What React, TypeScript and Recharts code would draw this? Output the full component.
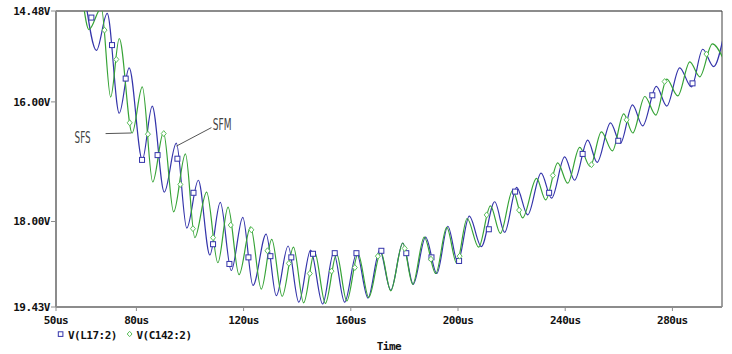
import React from 'react';
import {
  ComposedChart, Line, Scatter, XAxis, YAxis, ReferenceLine, ReferenceDot,
} from 'recharts';

// time axis (us) and voltage axis (V)
const xTicks = [50, 80, 120, 160, 200, 240, 280];
const yTicks = [14.48, 16, 18, 19.43];

// V(L17:2) – extremes of the ringing
const blueT = [61.1, 65.1, 69.1, 73.6, 77.3, 82.2, 85.9, 90.4, 94.9, 98.8, 103.1, 107.4, 111.3, 115.4, 119.7, 123.5, 128.4, 132.2, 136.6, 140.6, 145.0, 149.5, 153.6, 157.7, 162.2, 166.4, 170.8, 174.9, 179.4, 183.3, 187.9, 192.1, 196.2, 199.9, 204.2, 208.7, 213.7, 217.4, 221.9, 226.0, 231.0, 234.9, 239.8, 243.5, 248.4, 251.9, 256.9, 260.6, 265.1, 268.9, 274.0, 277.9, 282.7, 287.1, 291.3, 295.4, 299.0];
const blueV = [14.33, 15.14, 14.52, 16.19, 15.43, 16.97, 16.07, 17.51, 16.69, 18.11, 17.31, 18.56, 17.68, 18.82, 17.93, 19.07, 18.21, 19.24, 18.41, 19.35, 18.48, 19.38, 18.52, 19.35, 18.53, 19.28, 18.48, 19.15, 18.36, 19.05, 18.26, 18.87, 18.08, 18.68, 17.91, 18.42, 17.67, 18.18, 17.43, 17.89, 17.19, 17.61, 16.92, 17.31, 16.64, 17.01, 16.35, 16.69, 16.05, 16.40, 15.74, 16.07, 15.43, 15.75, 15.12, 15.41, 14.92];

// V(C142:2)
const greenT = [60.0, 62.3, 66.9, 70.4, 73.6, 78.4, 82.2, 86.1, 90.1, 93.9, 98.3, 101.8, 106.2, 110.4, 114.2, 118.3, 122.6, 126.6, 130.5, 134.4, 138.6, 142.4, 146.5, 150.5, 154.7, 158.5, 162.7, 166.7, 171.2, 174.9, 179.4, 183.1, 187.4, 191.7, 195.8, 199.5, 203.4, 207.7, 212.1, 215.8, 220.4, 224.1, 229.3, 232.7, 237.2, 240.9, 245.4, 249.3, 253.5, 257.6, 261.8, 265.2, 269.7, 273.8, 277.9, 282.0, 286.5, 290.2, 294.9, 299.0];
const greenV = [14.30, 14.79, 14.43, 15.92, 14.94, 16.52, 15.75, 17.34, 16.51, 17.84, 16.87, 18.27, 17.51, 18.69, 17.76, 18.89, 18.09, 19.13, 18.30, 19.25, 18.43, 19.36, 18.51, 19.37, 18.54, 19.33, 18.54, 19.27, 18.51, 19.16, 18.36, 19.05, 18.26, 18.87, 18.10, 18.70, 17.95, 18.43, 17.74, 18.20, 17.48, 17.94, 17.28, 17.64, 17.02, 17.36, 16.76, 17.08, 16.50, 16.82, 16.20, 16.52, 15.91, 16.22, 15.62, 15.90, 15.33, 15.58, 15.03, 15.28];

// trace markers (squares / diamonds)
const blueMarkT = [63.2, 70.9, 76.0, 82.1, 87.9, 95.3, 101.3, 108.6, 114.7, 121.8, 130.0, 137.8, 145.9, 154.0, 162.1, 171.4, 180.7, 190.1, 200.4, 211.5, 221.3, 234.0, 246.5, 259.8, 272.5, 287.5];
const blueMarkV = [14.59, 15.05, 15.61, 16.97, 16.89, 16.95, 17.52, 18.38, 18.71, 18.60, 18.58, 18.60, 18.54, 18.53, 18.53, 18.49, 18.53, 18.60, 18.66, 18.13, 17.50, 17.52, 16.87, 16.65, 15.89, 15.69];
const greenMarkT = [68.1, 72.5, 77.5, 84.3, 90.2, 96.4, 101.1, 108.6, 115.2, 122.9, 128.9, 136.9, 144.7, 152.8, 161.5, 170.1, 180.1, 189.9, 200.6, 210.7, 222.8, 235.4, 249.8, 262.9, 277.1, 292.7];
const greenMarkV = [14.80, 15.29, 16.35, 16.54, 16.53, 17.38, 18.12, 18.27, 18.06, 18.14, 18.49, 18.70, 18.87, 18.83, 18.77, 18.58, 18.45, 18.63, 18.58, 17.89, 17.81, 17.23, 17.05, 16.30, 15.66, 15.20];

const zip = (ts: number[], vs: number[]) => ts.map((t, i) => ({ t, v: vs[i] }));

const blueData = zip(blueT, blueV);
const greenData = zip(greenT, greenV);
const blueMarks = zip(blueMarkT, blueMarkV);
const greenMarks = zip(greenMarkT, greenMarkV);

const BLUE = '#3434aa';
const GREEN = '#36a336';
const MARK_GREEN = '#5cbf5c';
const AXIS = '#8c8c8c';
const FONT = "'DejaVu Sans Mono', monospace";

const tickStyle = { fill: '#111', fontSize: 11, fontFamily: FONT, fontWeight: 'bold', letterSpacing: -0.5 };

const Square = (p: any) => (
  <rect x={p.cx - 2.5} y={p.cy - 2.5} width={5} height={5} fill="#fff" stroke={BLUE} strokeWidth={1} />
);

const Diamond = (p: any) => (
  <polygon
    points={`${p.cx},${p.cy - 3} ${p.cx + 2.5},${p.cy} ${p.cx},${p.cy + 3} ${p.cx - 2.5},${p.cy}`}
    fill="#fff"
    stroke={MARK_GREEN}
    strokeWidth={1}
  />
);

const noteText = (label: string, anchor: 'start' | 'end', len: number) => (p: any) => (
  <text
    x={p.cx}
    y={p.cy}
    textAnchor={anchor}
    fontSize={16}
    fontFamily="'DejaVu Sans Condensed', 'DejaVu Sans', sans-serif"
    fontWeight={300}
    fill="#444"
    textLength={len}
    lengthAdjust="spacingAndGlyphs"
  >
    {label}
  </text>
);

export default function App() {
  return (
    <div style={{ position: 'absolute', left: 0, top: 0, width: 732, height: 354, background: '#fff' }}>
      <ComposedChart width={732} height={354} margin={{ top: 11, right: 10, left: 0, bottom: 27 }}>
        <XAxis
          type="number"
          dataKey="t"
          domain={[50, 298.5]}
          allowDataOverflow
          ticks={xTicks}
          interval={0}
          tickFormatter={(v: number) => `${v}us`}
          tick={tickStyle}
          tickSize={4}
          tickMargin={5}
          height={20}
          axisLine={{ stroke: AXIS, strokeWidth: 2 }}
          tickLine={{ stroke: AXIS }}
        />
        <YAxis
          type="number"
          dataKey="v"
          domain={[14.48, 19.43]}
          reversed
          allowDataOverflow
          ticks={yTicks}
          interval={0}
          tickFormatter={(v: number) => `${v.toFixed(2)}V`}
          tick={tickStyle}
          tickSize={5}
          tickMargin={1}
          width={56}
          axisLine={{ stroke: AXIS, strokeWidth: 2 }}
          tickLine={{ stroke: AXIS }}
        />
        <ReferenceLine y={14.48} stroke={AXIS} strokeWidth={2} />
        <ReferenceLine x={298.5} stroke="#404040" strokeWidth={1} />

        <Line data={blueData} dataKey="v" type="monotone" stroke={BLUE} strokeWidth={1.2} dot={false} isAnimationActive={false} />
        <Line data={greenData} dataKey="v" type="monotone" stroke={GREEN} strokeWidth={1.2} dot={false} isAnimationActive={false} />
        <Scatter data={blueMarks} dataKey="v" shape={Square} isAnimationActive={false} />
        <Scatter data={greenMarks} dataKey="v" shape={Diamond} isAnimationActive={false} />

        <ReferenceLine segment={[{ x: 68.5, y: 16.53 }, { x: 78.1, y: 16.52 }]} stroke="#555" strokeWidth={1} />
        <ReferenceLine segment={[{ x: 94.9, y: 16.74 }, { x: 108.0, y: 16.43 }]} stroke="#555" strokeWidth={1} />
        <ReferenceDot x={62.9} y={16.69} r={0} shape={noteText('SFS', 'end', 16)} />
        <ReferenceDot x={108.5} y={16.47} r={0} shape={noteText('SFM', 'start', 18.7)} />
      </ComposedChart>

      <svg width={732} height={354} style={{ position: 'absolute', left: 0, top: 0, pointerEvents: 'none' }}>
        <rect x={58.3} y={331.8} width={4.6} height={4.6} fill="#fff" stroke={BLUE} strokeWidth={1} />
        <text x={68} y={338.5} {...tickStyle}>V(L17:2)</text>
        <polygon points="129.6,331.3 132,334 129.6,336.7 127.2,334" fill="#fff" stroke={MARK_GREEN} strokeWidth={1} />
        <text x={136.5} y={338.5} {...tickStyle}>V(C142:2)</text>
        <text x={389} y={350} textAnchor="middle" {...tickStyle}>Time</text>
      </svg>
    </div>
  );
}
